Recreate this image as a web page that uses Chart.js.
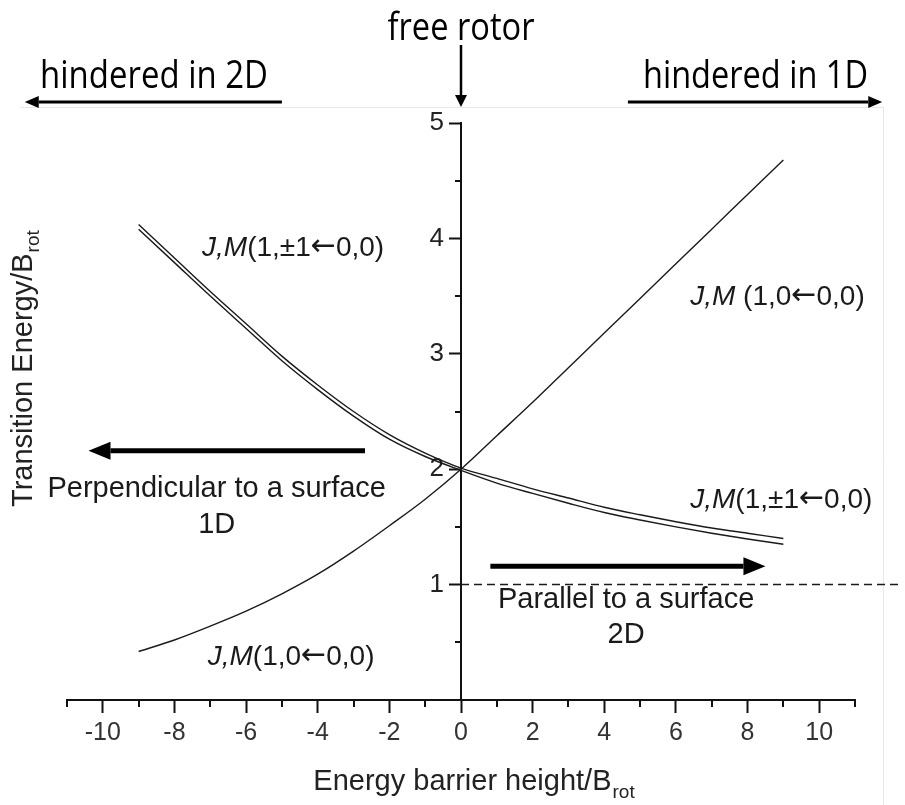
<!DOCTYPE html>
<html>
<head>
<meta charset="utf-8">
<script src="https://cdn.jsdelivr.net/npm/chart.js@4.4.1/dist/chart.umd.min.js"></script>
<style>html,body{margin:0;padding:0;background:#fff}</style>
</head>
<body>
<canvas id="rotorChart" width="905" height="805"></canvas>
<script>
"use strict"
var barrier = [-9,-8,-7,-6,-5,-4,-3,-2,-1,0,1,2,3,4,5,6,7,8,9];
//J,M (1,0<-0,0)
var m0 = [0.42,0.52,0.64,0.77,0.92,1.09,1.29,1.51,1.74,2.00,2.29,2.58,2.88,3.18,3.48,3.78,4.08,4.38,4.68];
//J,M (1,+-1<-0,0) - drawn as two close lines
var pm1Upper = [4.12,3.83,3.54,3.26,2.98,2.73,2.50,2.30,2.14,2.01,1.92,1.83,1.75,1.67,1.605,1.545,1.49,1.445,1.40];
var pm1Lower = [4.08,3.79,3.50,3.22,2.94,2.69,2.46,2.26,2.11,1.99,1.88,1.79,1.705,1.625,1.56,1.50,1.445,1.395,1.35];
//dashed line at E = 1
var refX = [0, 12.3];
var refY = [1, 1];
//ticks
var xMajor = [-10,-8,-6,-4,-2,0,2,4,6,8,10];
var xMinor = [-11,-9,-7,-5,-3,-1,1,3,5,7,9,11];
var yMajor = [1,2,3,4,5];
var yMinor = [0.5,1.5,2.5,3.5,4.5];

var SANS = '"Liberation Sans", Arial, Helvetica, sans-serif';
var TOPFONT = '"Open Sans", "Liberation Sans", sans-serif';

function pts(xs, ys) {
  return xs.map(function(v, i) { return {x: v, y: ys[i]}; });
}

function arrow(ctx, x1, y1, x2, y2, w, len, half) {
  var a = Math.atan2(y2 - y1, x2 - x1);
  var bx = x2 - len * Math.cos(a), by = y2 - len * Math.sin(a);
  ctx.lineWidth = w;
  ctx.beginPath(); ctx.moveTo(x1, y1); ctx.lineTo(bx, by); ctx.stroke();
  ctx.beginPath();
  ctx.moveTo(x2, y2);
  ctx.lineTo(bx + half * Math.sin(a), by - half * Math.cos(a));
  ctx.lineTo(bx - half * Math.sin(a), by + half * Math.cos(a));
  ctx.closePath(); ctx.fill();
}

function rich(ctx, x, y, parts, size) {//italic J,M, upright rest, arrow from another font
  ctx.textAlign = "left"; ctx.textBaseline = "alphabetic";
  parts.forEach(function(p) {
    if (p.a) ctx.font = (size + 2) + 'px "DejaVu Sans", sans-serif';
    else ctx.font = (p.i ? "italic " : "") + size + "px " + SANS;
    ctx.fillText(p.t, x, y - (p.a ? 1 : 0));
    x += ctx.measureText(p.t).width;
  });
}

function jm(mid, rest) {
  return [{t: "J,M", i: true}, {t: mid}, {t: "\u2190", a: true}, {t: rest}];
}

var decor = {
  id: "decor",
  beforeDraw: function(chart) {//faint frame of the original figure
    var ctx = chart.ctx;
    ctx.save();
    ctx.strokeStyle = "#e8e8e8"; ctx.lineWidth = 1;
    ctx.beginPath(); ctx.moveTo(20, 107.5); ctx.lineTo(883.5, 107.5); ctx.lineTo(883.5, 805); ctx.stroke();
    ctx.restore();
  },
  afterLayout: function(chart) {//put the y axis on x = 0
    var y = chart.scales.y;
    var x0 = chart.scales.x.getPixelForValue(0);
    y.left = x0 - 60; y.right = x0;
  },
  afterDraw: function(chart) {
    var ctx = chart.ctx, xs = chart.scales.x, ys = chart.scales.y;
    var px = function(v) { return xs.getPixelForValue(v); };
    var py = function(v) { return ys.getPixelForValue(v); };
    var x0 = px(0), bottom = chart.chartArea.bottom;
    ctx.save();
    ctx.strokeStyle = "#111"; ctx.fillStyle = "#111"; ctx.lineWidth = 2;
    //minor ticks
    xMinor.forEach(function(v) {
      var p = Math.round(px(v));
      ctx.beginPath(); ctx.moveTo(p, bottom); ctx.lineTo(p, bottom + 7); ctx.stroke();
    });
    yMinor.forEach(function(v) {
      var p = Math.round(py(v));
      ctx.beginPath(); ctx.moveTo(x0 - 6, p); ctx.lineTo(x0, p); ctx.stroke();
    });

    //axis titles
    ctx.fillStyle = "#222";
    ctx.textBaseline = "alphabetic"; ctx.textAlign = "left";
    ctx.font = "29px " + SANS;
    var t = "Energy barrier height/B";
    var w = ctx.measureText(t).width;
    ctx.font = "19px " + SANS;
    var ws = ctx.measureText("rot").width;
    var sx = 474 - (w + ws + 1) / 2;
    ctx.font = "29px " + SANS; ctx.fillText(t, sx, 790);
    ctx.font = "19px " + SANS; ctx.fillText("rot", sx + w + 1, 798);

    ctx.save();
    ctx.translate(32, 507); ctx.rotate(-Math.PI / 2);
    ctx.font = "29px " + SANS;
    t = "Transition Energy/B";
    w = ctx.measureText(t).width;
    ctx.fillText(t, 0, 0);
    ctx.font = "19px " + SANS; ctx.fillText("rot", w + 1, 7);
    ctx.restore();

    //curve labels
    ctx.fillStyle = "#1a1a1a";
    rich(ctx, px(-7.23), py(3.85), jm("(1,\u00b11", "0,0)"), 28);
    rich(ctx, px(6.40), py(3.42), jm(" (1,0", "0,0)"), 28);
    rich(ctx, px(6.40), py(1.66), jm("(1,\u00b11", "0,0)"), 28);
    rich(ctx, px(-7.07), py(0.30), jm("(1,0", "0,0)"), 28);

    //direction notes
    ctx.font = "29px " + SANS; ctx.textAlign = "center";
    ctx.fillText("Perpendicular to a surface", px(-6.82), py(1.76));
    ctx.fillText("1D", px(-6.82), py(1.45));
    ctx.fillText("Parallel to a surface", px(4.61), py(0.80));
    ctx.fillText("2D", px(4.61), py(0.49));

    ctx.fillStyle = "#000"; ctx.strokeStyle = "#000";
    arrow(ctx, px(-2.68), py(2.16), px(-10.4), py(2.16), 5, 22, 9);
    arrow(ctx, px(0.82), py(1.16), px(8.5), py(1.16), 5, 22, 9);

    //free rotor / hindered notes above the plot
    ctx.font = "39px " + TOPFONT;
    ctx.textAlign = "center";
    ctx.fillText("free rotor", x0, 40, 147);
    ctx.textAlign = "left";
    ctx.fillText("hindered in 2D", 40, 88, 228);
    ctx.textAlign = "right";
    ctx.fillText("hindered in 1D", 868, 88, 225);
    arrow(ctx, x0, 45, x0, 107, 2.5, 12, 6);
    arrow(ctx, px(-5), 102, px(-12.18), 102, 3, 14, 6);
    arrow(ctx, px(4.66), 102, px(11.76), 102, 3, 14, 6);
    ctx.restore();
  }
};

var ctxEl = document.getElementById("rotorChart");
var rotorChart = new Chart(ctxEl, {
  type: "line",
  data: {
    datasets: [
      {label: "pm1 upper", data: pts(barrier, pm1Upper)},
      {label: "pm1 lower", data: pts(barrier, pm1Lower)},
      {label: "m0", data: pts(barrier, m0)},
      {label: "E=1", data: pts(refX, refY), borderDash: [8, 5], borderWidth: 1.5, clip: false, cubicInterpolationMode: "default", tension: 0}
    ]
  },
  options: {
    responsive: false,
    animation: false,
    layout: {padding: {left: 67, right: 50, top: 123, bottom: 0}},
    plugins: {legend: {display: false}, tooltip: {enabled: false}},
    elements: {
      point: {radius: 0},
      line: {borderColor: "#1a1a1a", borderWidth: 1.4, cubicInterpolationMode: "monotone", fill: false}
    },
    scales: {
      x: {
        type: "linear", min: -11, max: 11,
        afterBuildTicks: function(s) { s.ticks = xMajor.map(function(v) { return {value: v}; }); },
        afterFit: function(s) { s.height = 105; },
        grid: {drawOnChartArea: false, tickLength: 13, tickWidth: 2, tickColor: "#111"},
        border: {color: "#111", width: 2},
        ticks: {font: {family: SANS, size: 25}, color: "#333", padding: 5, maxRotation: 0, autoSkip: false}
      },
      y: {
        type: "linear", min: 0, max: 5, position: "left",
        afterBuildTicks: function(s) { s.ticks = yMajor.map(function(v) { return {value: v}; }); },
        afterFit: function(s) { s.width = 0; },
        grid: {drawOnChartArea: false, tickLength: 12, tickWidth: 2, tickColor: "#111"},
        border: {color: "#111", width: 2},
        ticks: {font: {family: SANS, size: 26}, color: "#222", padding: 5, autoSkip: false}
      }
    }
  },
  plugins: [decor]
});
</script>
</body>
</html>
